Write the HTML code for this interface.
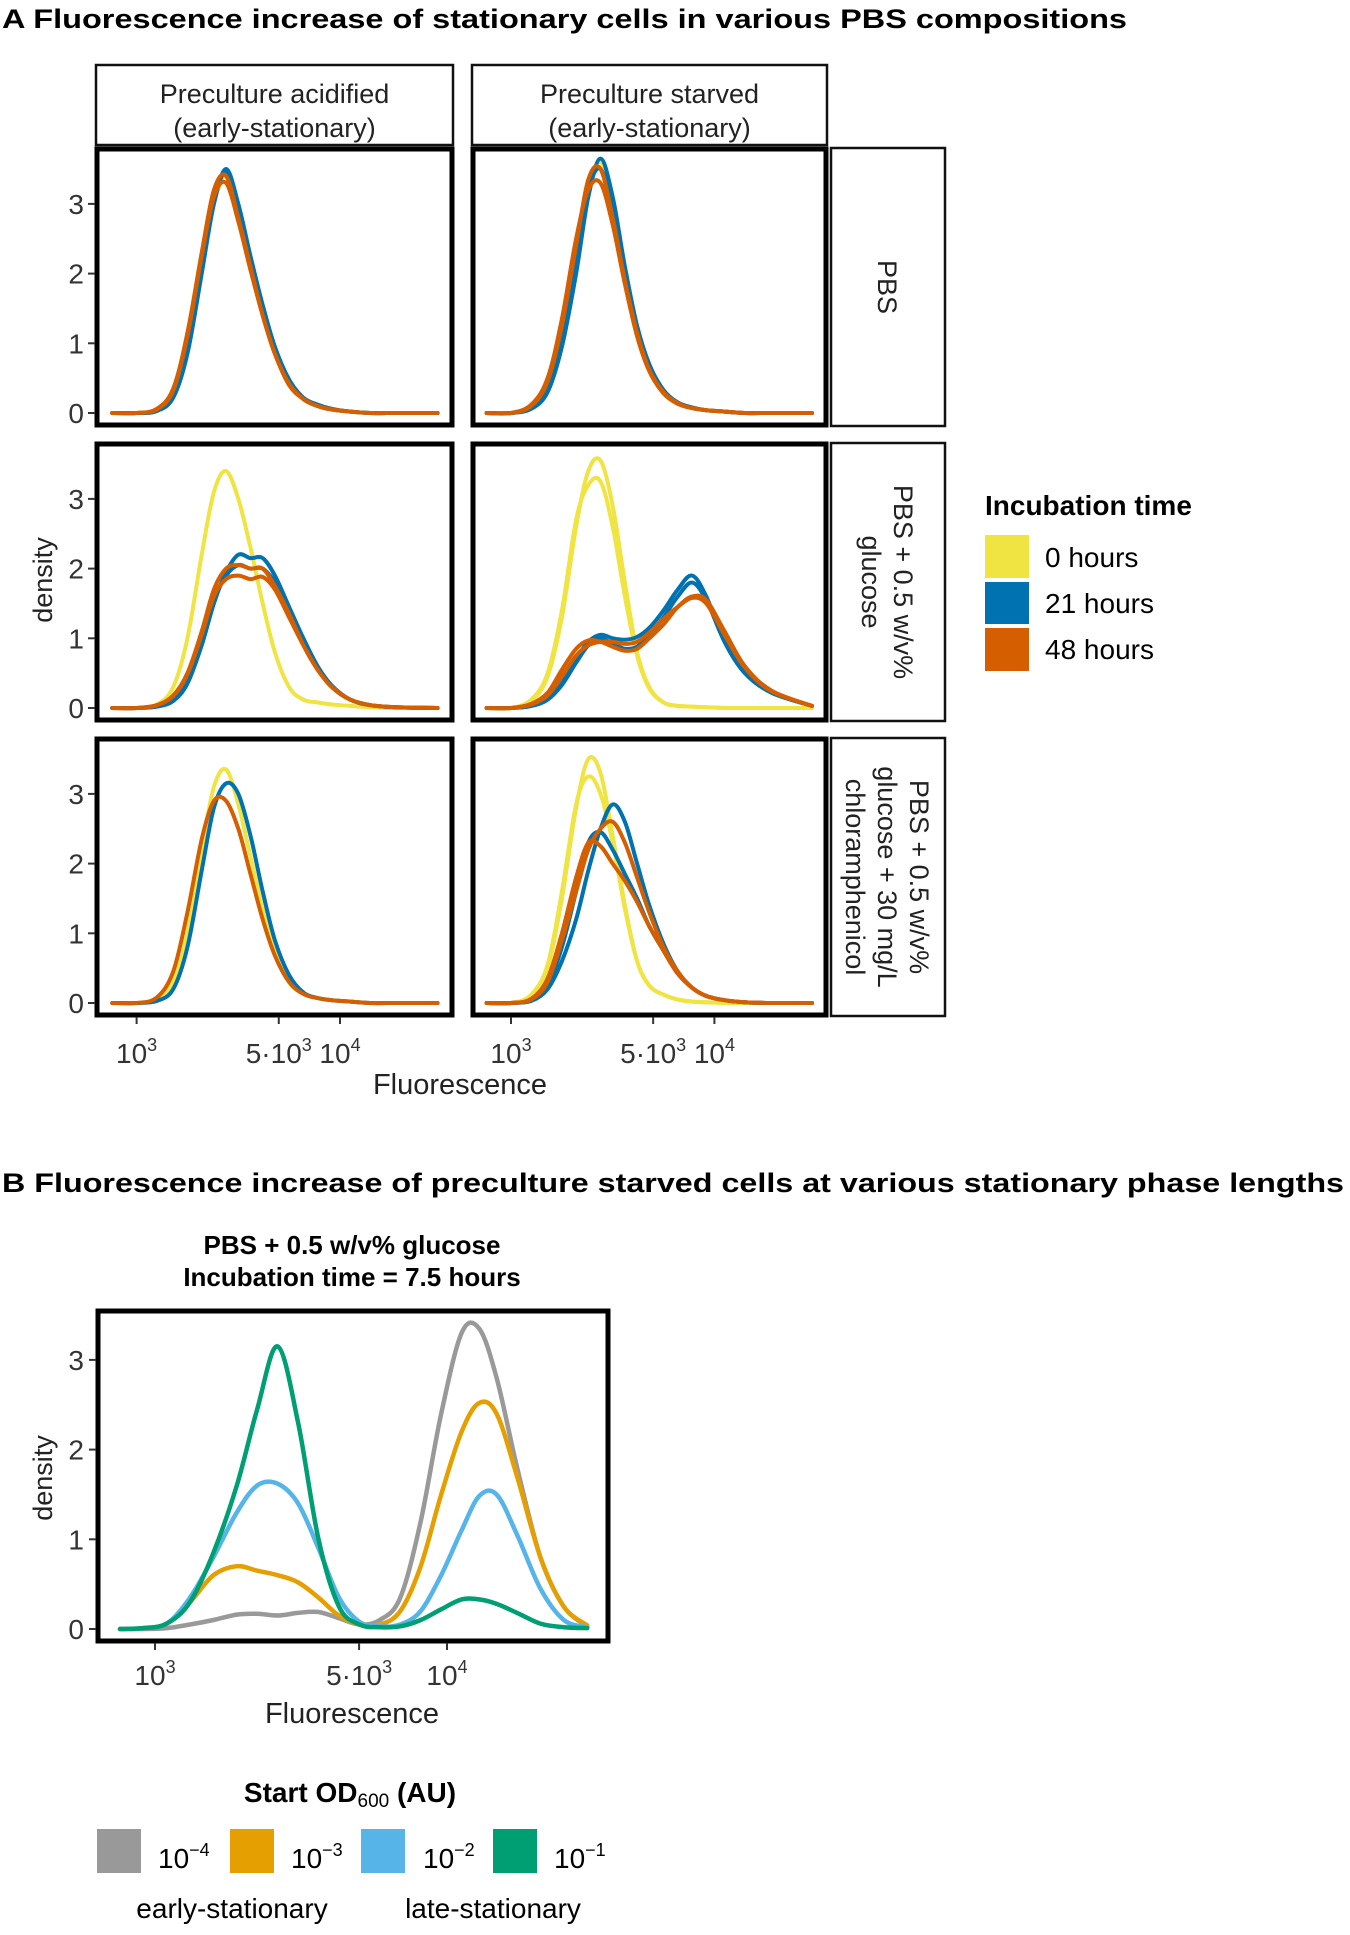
<!DOCTYPE html>
<html><head><meta charset="utf-8"><style>
html,body{margin:0;padding:0;background:#fff;}
svg{display:block;font-family:"Liberation Sans",Arial,sans-serif;}
</style></head><body>
<svg id="fig" width="1350" height="1935" viewBox="0 0 1350 1935" xmlns="http://www.w3.org/2000/svg">
<g id="static">
<text x="2" y="28" font-size="27" font-weight="bold" textLength="1125" lengthAdjust="spacingAndGlyphs">A  Fluorescence increase of stationary cells in various PBS compositions</text>
<text x="2" y="1192" font-size="27" font-weight="bold" textLength="1342" lengthAdjust="spacingAndGlyphs">B  Fluorescence increase of preculture starved cells at various stationary phase lengths</text>
<text x="352" y="1254" font-size="26" font-weight="bold" text-anchor="middle">PBS + 0.5 w/v% glucose</text>
<text x="352" y="1286" font-size="26" font-weight="bold" text-anchor="middle">Incubation time = 7.5 hours</text>
<text transform="translate(52,580) rotate(-90)" font-size="27" text-anchor="middle" fill="#222">density</text>
<text x="460" y="1094" font-size="29" text-anchor="middle" fill="#222">Fluorescence</text>
<text transform="translate(52,1478) rotate(-90)" font-size="27" text-anchor="middle" fill="#222">density</text>
<text x="352" y="1723" font-size="29" text-anchor="middle" fill="#222">Fluorescence</text>
<g>
<text x="985" y="515" font-size="28" font-weight="bold">Incubation time</text>
<rect x="985" y="535" width="44" height="43" fill="#F0E442"/>
<rect x="985" y="582" width="44" height="42" fill="#0072B2"/>
<rect x="985" y="628" width="44" height="43" fill="#D55E00"/>
<text x="1045" y="567" font-size="28">0 hours</text>
<text x="1045" y="613" font-size="28">21 hours</text>
<text x="1045" y="659" font-size="28">48 hours</text>
</g>
<g>
<text x="350" y="1802" font-size="28" font-weight="bold" text-anchor="middle">Start OD<tspan font-size="19" font-weight="normal" dy="5">600</tspan><tspan dy="-5"> (AU)</tspan></text>
<rect x="97" y="1829" width="44" height="44" fill="#999999"/>
<rect x="230" y="1829" width="44" height="44" fill="#E69F00"/>
<rect x="361" y="1829" width="44" height="44" fill="#56B4E9"/>
<rect x="493" y="1829" width="44" height="44" fill="#009E73"/>
<text x="158" y="1868" font-size="28">10<tspan font-size="18" dy="-12">−4</tspan></text>
<text x="291" y="1868" font-size="28">10<tspan font-size="18" dy="-12">−3</tspan></text>
<text x="423" y="1868" font-size="28">10<tspan font-size="18" dy="-12">−2</tspan></text>
<text x="554" y="1868" font-size="28">10<tspan font-size="18" dy="-12">−1</tspan></text>
<text x="232" y="1918" font-size="28" text-anchor="middle">early-stationary</text>
<text x="493" y="1918" font-size="28" text-anchor="middle">late-stationary</text>
</g>
</g>
<g id="charts"></g>
</svg>
<script>
const gridA = [2.88,3.0,3.1,3.18,3.25,3.32,3.38,3.44,3.50,3.56,3.62,3.68,3.75,3.82,3.89,3.96,4.05,4.15,4.28,4.48];
const colLabels = ["Preculture acidified|(early-stationary)", "Preculture starved|(early-stationary)"];
const rowLabels = ["PBS", "PBS + 0.5 w/v%|glucose", "PBS + 0.5 w/v%|glucose + 30 mg/L|chloramphenicol"];
const yTicksA = [0,1,2,3];
const yTicksB = [0,1,2,3];
const xTickLogs = [3, 3.69897, 4];
const xTickLabels = [["10","3"],["5·10","3"],["10","4"]];

const r1c1_0h  = [0,0,0.05,0.3,1.0,2.1,3.0,3.4,2.9,2.2,1.5,0.9,0.45,0.2,0.1,0.05,0.02,0,0,0];
const r1c1_21a = [0,0,0.03,0.22,0.85,2.0,3.0,3.5,3.0,2.25,1.55,0.95,0.48,0.22,0.12,0.06,0.02,0,0,0];
const r1c1_21b = [0,0,0.03,0.25,0.9,2.1,3.05,3.45,2.95,2.2,1.5,0.9,0.45,0.2,0.1,0.05,0.02,0,0,0];
const r1c1_48a = [0,0,0.06,0.35,1.15,2.3,3.2,3.4,2.8,2.1,1.4,0.85,0.4,0.2,0.1,0.05,0.02,0,0,0];
const r1c1_48b = [0,0,0.05,0.32,1.1,2.25,3.1,3.3,2.75,2.05,1.4,0.85,0.42,0.2,0.1,0.05,0.02,0,0,0];
const r1c2_0h  = [0,0,0.08,0.4,1.1,2.2,3.2,3.6,3.0,2.0,1.2,0.65,0.3,0.15,0.08,0.04,0.02,0,0,0];
const r1c2_21a = [0,0,0.06,0.3,0.95,2.0,3.1,3.65,3.1,2.1,1.25,0.7,0.33,0.15,0.08,0.04,0.02,0,0,0];
const r1c2_21b = [0,0,0.08,0.38,1.1,2.2,3.2,3.5,2.9,2.0,1.2,0.65,0.3,0.14,0.07,0.04,0.02,0,0,0];
const r1c2_48a = [0,0,0.1,0.45,1.25,2.4,3.35,3.5,2.8,1.9,1.15,0.62,0.3,0.14,0.07,0.04,0.02,0,0,0];
const r1c2_48b = [0,0,0.12,0.5,1.35,2.5,3.2,3.3,2.7,1.85,1.1,0.6,0.28,0.13,0.07,0.04,0.02,0,0,0];
const r2c1_0h  = [0,0,0.05,0.3,1.0,2.2,3.1,3.4,3.0,2.3,1.5,0.8,0.3,0.12,0.08,0.05,0.03,0.01,0,0];
const r2c1_21a = [0,0,0.02,0.1,0.35,0.9,1.5,1.95,2.2,2.15,2.15,1.9,1.45,1.0,0.6,0.32,0.12,0.04,0.01,0];
const r2c1_21b = [0,0,0.02,0.12,0.4,1.0,1.55,1.9,2.05,2.0,2.0,1.8,1.4,0.95,0.58,0.3,0.12,0.04,0.01,0];
const r2c1_48a = [0,0,0.04,0.18,0.5,1.1,1.7,2.0,2.05,2.0,2.0,1.75,1.35,0.9,0.55,0.3,0.12,0.04,0.01,0];
const r2c1_48b = [0,0,0.04,0.17,0.48,1.05,1.6,1.85,1.9,1.85,1.88,1.7,1.3,0.9,0.55,0.3,0.12,0.04,0.01,0];
const r2c2_0a  = [0,0,0.1,0.45,1.3,2.6,3.4,3.55,2.9,1.8,0.8,0.3,0.08,0.03,0.02,0.01,0,0,0,0];
const r2c2_0b  = [0,0,0.12,0.5,1.4,2.7,3.2,3.25,2.6,1.6,0.75,0.28,0.08,0.03,0.02,0.01,0,0,0,0];
const r2c2_21a = [0,0,0.03,0.12,0.35,0.7,0.95,1.05,1.0,0.98,1.02,1.15,1.4,1.7,1.9,1.6,0.95,0.5,0.22,0.03];
const r2c2_21b = [0,0,0.03,0.12,0.33,0.65,0.9,1.0,0.92,0.85,0.88,1.05,1.3,1.6,1.8,1.55,0.95,0.5,0.22,0.03];
const r2c2_48a = [0,0,0.06,0.22,0.55,0.85,0.97,0.95,0.88,0.82,0.85,1.0,1.2,1.45,1.6,1.55,1.1,0.6,0.25,0.03];
const r2c2_48b = [0,0,0.05,0.18,0.45,0.75,0.9,0.95,0.95,0.92,0.95,1.08,1.28,1.45,1.58,1.5,1.05,0.58,0.24,0.03];
const r3c1_0h  = [0,0,0.05,0.3,1.0,2.2,3.1,3.35,2.85,2.1,1.35,0.75,0.3,0.13,0.07,0.04,0.02,0,0,0];
const r3c1_21a = [0,0,0.03,0.2,0.8,1.9,2.8,3.15,3.0,2.4,1.6,0.9,0.4,0.15,0.07,0.04,0.02,0,0,0];
const r3c1_48a = [0,0,0.08,0.45,1.3,2.35,2.9,2.9,2.5,1.85,1.2,0.68,0.3,0.13,0.07,0.04,0.02,0,0,0];
const r3c2_0a  = [0,0,0.1,0.5,1.5,2.8,3.5,3.3,2.4,1.4,0.6,0.25,0.12,0.05,0.02,0.01,0,0,0,0];
const r3c2_0b  = [0,0,0.12,0.55,1.6,2.85,3.25,3.0,2.3,1.35,0.6,0.25,0.12,0.05,0.02,0.01,0,0,0,0];
const r3c2_21a = [0,0,0.03,0.2,0.6,1.2,1.9,2.5,2.85,2.6,2.0,1.4,0.85,0.45,0.22,0.1,0.04,0.01,0,0];
const r3c2_21b = [0,0,0.04,0.25,0.8,1.6,2.3,2.45,2.2,1.85,1.5,1.1,0.75,0.42,0.22,0.1,0.04,0.01,0,0];
const r3c2_48a = [0,0,0.05,0.3,0.9,1.6,2.2,2.5,2.6,2.3,1.8,1.3,0.8,0.45,0.22,0.1,0.04,0.01,0,0];
const r3c2_48b = [0,0,0.06,0.35,1.0,1.8,2.3,2.25,2.0,1.75,1.45,1.1,0.75,0.42,0.22,0.1,0.04,0.01,0,0];

const gridB = [2.88,2.96,3.04,3.12,3.20,3.28,3.35,3.42,3.49,3.56,3.63,3.70,3.77,3.84,3.91,3.98,4.05,4.11,4.17,4.24,4.32,4.40,4.48];
const b_1e4 = [0,0,0.01,0.05,0.1,0.16,0.17,0.15,0.18,0.19,0.12,0.05,0.1,0.35,1.2,2.4,3.3,3.35,2.8,1.8,0.8,0.25,0.03];
const b_1e3 = [0,0.01,0.06,0.3,0.6,0.7,0.65,0.6,0.52,0.35,0.15,0.05,0.05,0.2,0.7,1.5,2.2,2.52,2.4,1.7,0.8,0.25,0.04];
const b_1e2 = [0,0.01,0.06,0.35,0.8,1.3,1.6,1.62,1.4,0.9,0.35,0.08,0.03,0.05,0.2,0.6,1.1,1.48,1.5,1.05,0.45,0.1,0.02];
const b_1e1 = [0,0.01,0.06,0.3,0.85,1.6,2.45,3.15,2.3,1.0,0.25,0.05,0.02,0.03,0.1,0.22,0.33,0.33,0.28,0.18,0.06,0.02,0.01];

const C0 = "#F0E442", C21 = "#0072B2", C48 = "#D55E00";
const panelsA = [
  {r:0,c:0,series:[[r1c1_0h,C0],[r1c1_21a,C21],[r1c1_21b,C21],[r1c1_48a,C48],[r1c1_48b,C48]]},
  {r:0,c:1,series:[[r1c2_0h,C0],[r1c2_21a,C21],[r1c2_21b,C21],[r1c2_48a,C48],[r1c2_48b,C48]]},
  {r:1,c:0,series:[[r2c1_0h,C0],[r2c1_21a,C21],[r2c1_21b,C21],[r2c1_48a,C48],[r2c1_48b,C48]]},
  {r:1,c:1,series:[[r2c2_0a,C0],[r2c2_0b,C0],[r2c2_21a,C21],[r2c2_21b,C21],[r2c2_48a,C48],[r2c2_48b,C48]]},
  {r:2,c:0,series:[[r3c1_0h,C0],[r3c1_21a,C21],[r3c1_48a,C48]]},
  {r:2,c:1,series:[[r3c2_0a,C0],[r3c2_0b,C0],[r3c2_21a,C21],[r3c2_21b,C21],[r3c2_48a,C48],[r3c2_48b,C48]]}
];
const seriesB = [[b_1e4,"#999999"],[b_1e3,"#E69F00"],[b_1e2,"#56B4E9"],[b_1e1,"#009E73"]];

const NS = "http://www.w3.org/2000/svg";
const root = document.getElementById("charts");
function mk(tag, attrs, parent){ const e=document.createElementNS(NS,tag); for(const k in attrs) e.setAttribute(k,attrs[k]); (parent||root).appendChild(e); return e; }
function smoothPath(pts){
  let d = "M"+pts[0][0].toFixed(1)+","+pts[0][1].toFixed(1);
  for(let i=0;i<pts.length-1;i++){
    const p0=pts[Math.max(0,i-1)], p1=pts[i], p2=pts[i+1], p3=pts[Math.min(pts.length-1,i+2)];
    const c1=[p1[0]+(p2[0]-p0[0])/6, p1[1]+(p2[1]-p0[1])/6];
    const c2=[p2[0]-(p3[0]-p1[0])/6, p2[1]-(p3[1]-p1[1])/6];
    d+=" C"+c1[0].toFixed(1)+","+c1[1].toFixed(1)+" "+c2[0].toFixed(1)+","+c2[1].toFixed(1)+" "+p2[0].toFixed(1)+","+p2[1].toFixed(1);
  }
  return d;
}
function xTickLabel(g, x, y, lab, name){
  const t = mk("text",{x:x,y:y,"font-size":"28","text-anchor":"middle",fill:"#333"},g);
  
  
  t.appendChild(document.createTextNode(lab[0]));
  const s = mk("tspan",{"font-size":"18",dy:"-12"},t); s.textContent = lab[1];
}

const colX = [[95,454],[471,828]];
const colLog0 = [136.6, 511];
const decade = 203.4;
const rowTop = [147,442,737];
const rowH = 280;
const rowZero = [413,708,1003];
const unitA = 69.7;
function xA(c, lg){ return colLog0[c] + (lg-3)*decade; }
function yA(r, v){ return rowZero[r] - v*unitA; }

colLabels.forEach((lab,c)=>{
  const g = mk("g",{});
  
  
  mk("rect",{x:colX[c][0]+1,y:65,width:colX[c][1]-colX[c][0]-2,height:80,fill:"#fff",stroke:"#111","stroke-width":"2.5"},g);
  lab.split("|").forEach((ln,i)=>{
    const t = mk("text",{x:(colX[c][0]+colX[c][1])/2,y:103+i*34,"font-size":"27","text-anchor":"middle",fill:"#222"},g);
    t.textContent = ln;
  });
});
rowLabels.forEach((lab,r)=>{
  const g = mk("g",{});
  
  
  mk("rect",{x:831,y:rowTop[r]+1,width:114,height:rowH-2,fill:"#fff",stroke:"#111","stroke-width":"2.5"},g);
  const lines = lab.split("|");
  const cx = 888, cy = rowTop[r]+rowH/2;
  lines.forEach((ln,i)=>{
    const off = ((lines.length-1)/2 - i)*32;
    const t = mk("text",{transform:"translate("+(cx+off-10)+","+cy+") rotate(90)","font-size":"27","text-anchor":"middle",fill:"#222"},g);
    t.textContent = ln;
  });
});
panelsA.forEach(p=>{
  const g = mk("g",{});
  
  
  const x0=colX[p.c][0], x1=colX[p.c][1], y0=rowTop[p.r];
  p.series.forEach((s,i)=>{
    const pts = gridA.map((lg,k)=>[xA(p.c,lg), yA(p.r,s[0][k])]);
    const path = mk("path",{d:smoothPath(pts),fill:"none",stroke:s[1],"stroke-width":"4","stroke-linejoin":"round","stroke-linecap":"round"},g);
    
    
  });
  const fr = mk("rect",{x:x0+2,y:y0+2,width:x1-x0-4,height:rowH-4,fill:"none",stroke:"#000","stroke-width":"5"},g);
  
  
  if(p.c===0){
    yTicksA.forEach(v=>{
      mk("line",{x1:88,x2:95,y1:yA(p.r,v),y2:yA(p.r,v),stroke:"#333","stroke-width":"2"},g);
      const t = mk("text",{x:84,y:yA(p.r,v)+10,"font-size":"28","text-anchor":"end",fill:"#333"},g);
      
      
      t.textContent = v;
    });
  }
  if(p.r===2){
    xTickLogs.forEach((lg,i)=>{
      mk("line",{x1:xA(p.c,lg),x2:xA(p.c,lg),y1:1017,y2:1024,stroke:"#333","stroke-width":"2"},g);
      xTickLabel(g, xA(p.c,lg), 1063, xTickLabels[i], 'x-tick-label');
    });
  }
});

const bX = [96,610], bY = [1309,1643];
const bLog0 = 155, bDec = 292, bZero = 1629, bUnit = 89.7;
function xB(lg){ return bLog0 + (lg-3)*bDec; }
function yB(v){ return bZero - v*bUnit; }
const gB = mk("g",{});


seriesB.forEach(s=>{
  const pts = gridB.map((lg,k)=>[xB(lg), yB(s[0][k])]);
  const path = mk("path",{d:smoothPath(pts),fill:"none",stroke:s[1],"stroke-width":"4.5","stroke-linejoin":"round","stroke-linecap":"round"},gB);
  
  
});
const fb = mk("rect",{x:bX[0]+2,y:bY[0]+2,width:bX[1]-bX[0]-4,height:bY[1]-bY[0]-4,fill:"none",stroke:"#000","stroke-width":"5"},gB);


yTicksB.forEach(v=>{
  mk("line",{x1:89,x2:96,y1:yB(v),y2:yB(v),stroke:"#333","stroke-width":"2"},gB);
  const t = mk("text",{x:84,y:yB(v)+10,"font-size":"28","text-anchor":"end",fill:"#333"},gB);
  
  
  t.textContent = v;
});
xTickLogs.forEach((lg,i)=>{
  mk("line",{x1:xB(lg),x2:xB(lg),y1:bY[1],y2:bY[1]+7,stroke:"#333","stroke-width":"2"},gB);
  xTickLabel(gB, xB(lg), 1685, xTickLabels[i], 'x-tick-label-b');
});
</script>
</body></html>
